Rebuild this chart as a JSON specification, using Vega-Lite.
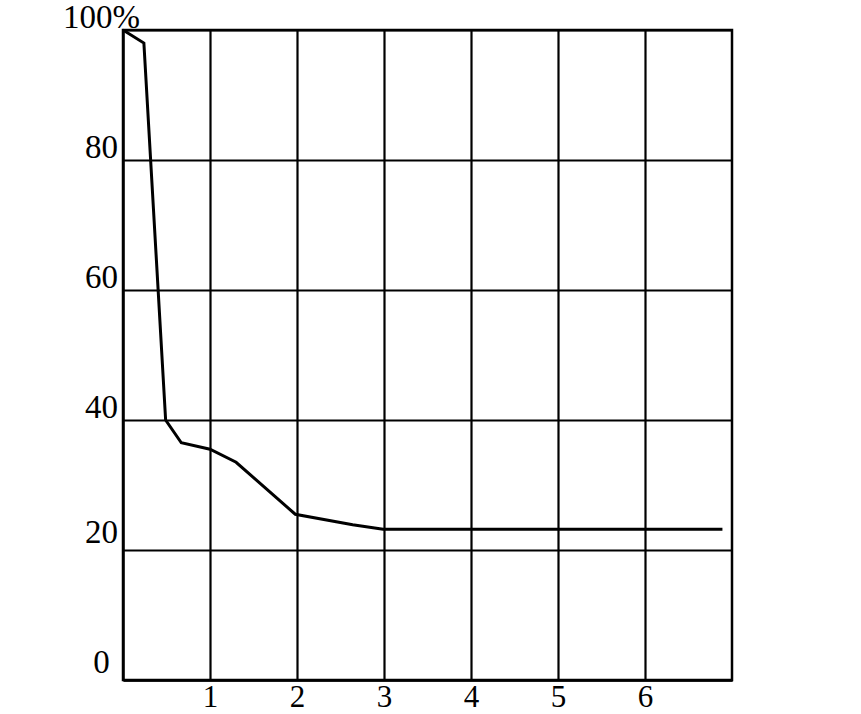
{
  "$schema": "https://vega.github.io/schema/vega-lite/v6.json",
  "autosize": "none",
  "width": 609,
  "height": 650,
  "padding": {"left": 123, "top": 30, "right": 129, "bottom": 34},
  "background": "white",
  "view": {"stroke": "black", "strokeWidth": 2.5},
  "data": {
    "values": [
      {"t": 0.0, "p": 100},
      {"t": 0.24, "p": 98.0},
      {"t": 0.49, "p": 40.0},
      {"t": 0.67, "p": 36.5},
      {"t": 1.0, "p": 35.5},
      {"t": 1.3, "p": 33.5},
      {"t": 1.98, "p": 25.5},
      {"t": 2.64, "p": 23.9},
      {"t": 2.99, "p": 23.2},
      {"t": 6.89, "p": 23.2}
    ]
  },
  "mark": {"type": "line", "color": "black", "strokeWidth": 3},
  "encoding": {
    "x": {
      "field": "t",
      "type": "quantitative",
      "scale": {"domain": [0, 7], "nice": false, "zero": false},
      "axis": {
        "title": null,
        "values": [1, 2, 3, 4, 5, 6],
        "grid": true,
        "gridColor": "black",
        "gridWidth": 2.2,
        "gridOpacity": 1,
        "domainColor": "black",
        "domainWidth": 2.5,
        "ticks": false,
        "labelFont": "Liberation Serif",
        "labelFontSize": 31,
        "labelColor": "black",
        "labelPadding": 2,
        "labelBaseline": "top"
      }
    },
    "y": {
      "field": "p",
      "type": "quantitative",
      "scale": {"domain": [0, 100], "nice": false},
      "axis": {
        "title": null,
        "values": [0, 20, 40, 60, 80, 100],
        "labelExpr": "datum.value == 100 ? '100%' : datum.label",
        "grid": true,
        "gridColor": "black",
        "gridWidth": 2.2,
        "gridOpacity": 1,
        "domainColor": "black",
        "domainWidth": 2.5,
        "ticks": false,
        "labelFont": "Liberation Serif",
        "labelFontSize": 33,
        "labelColor": "black",
        "labelAlign": "center",
        "labelBaseline": "alphabetic",
        "labelPadding": 22,
        "labelOffset": {"condition": {"test": "datum.value <= 20", "value": -8}, "value": -3}
      }
    }
  }
}
